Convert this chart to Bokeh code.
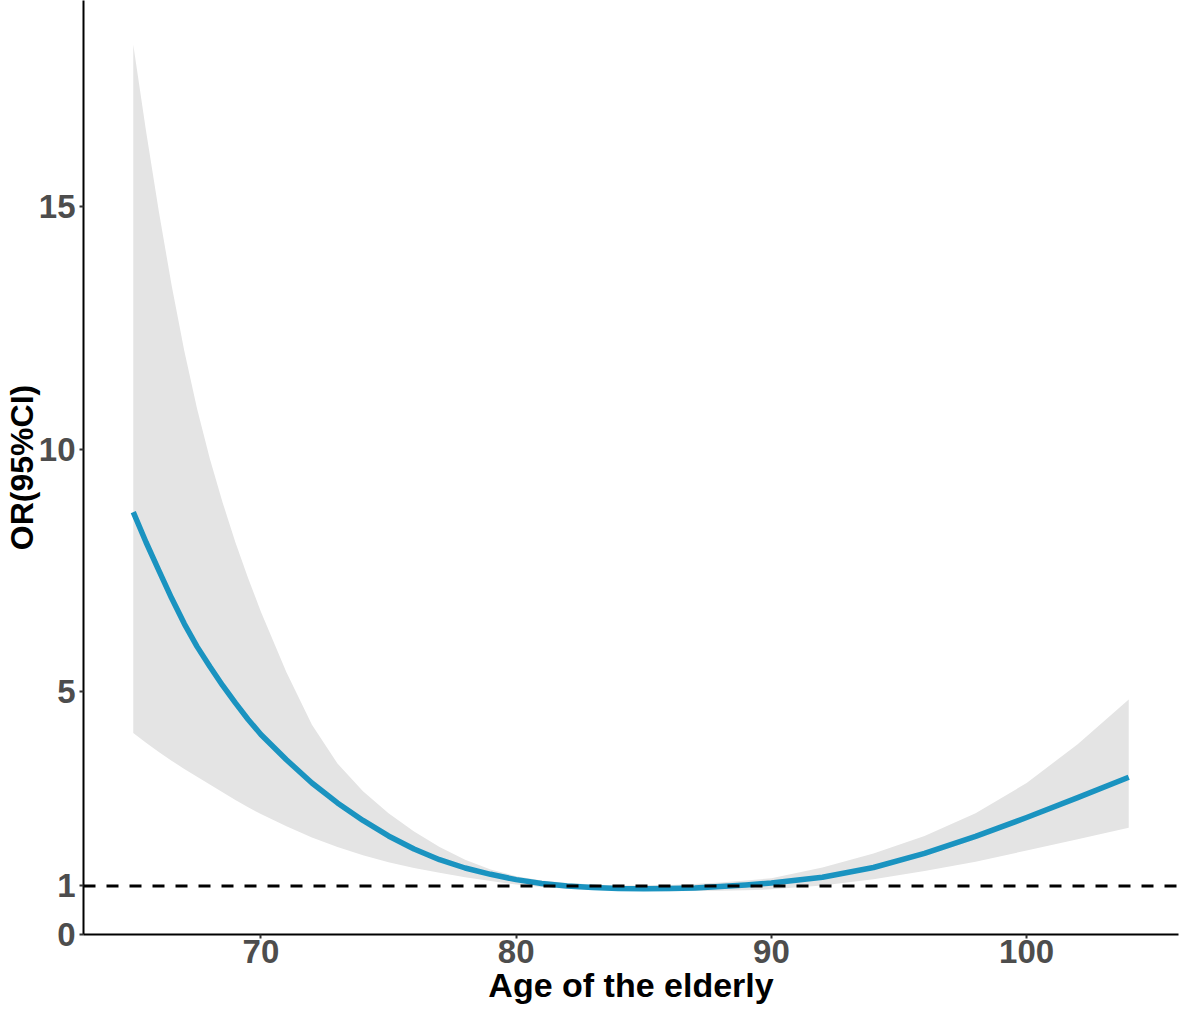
from bokeh.plotting import figure
from bokeh.models import Span, Range1d, FixedTicker
from bokeh.embed import file_html
from bokeh.resources import INLINE

# Data (age vs odds ratio with 95% CI)
age = [65, 65.5, 66, 66.5, 67, 67.5, 68, 68.5, 69, 69.5, 70,
       71, 72, 73, 74, 75, 76, 77, 78, 79, 80,
       81, 82, 83, 84, 85, 86, 87, 88, 89, 90,
       92, 94, 96, 98, 100, 102, 104]
or_est = [8.70, 8.08, 7.50, 6.93, 6.40, 5.93, 5.52, 5.13, 4.77, 4.43, 4.12,
          3.60, 3.12, 2.71, 2.35, 2.03, 1.76, 1.54, 1.37, 1.24, 1.13,
          1.05, 1.00, 0.97, 0.95, 0.945, 0.95, 0.96, 0.99, 1.02, 1.06,
          1.18, 1.38, 1.67, 2.02, 2.41, 2.82, 3.24]
ci_low = [4.15, 3.95, 3.76, 3.58, 3.41, 3.25, 3.09, 2.93, 2.77, 2.62, 2.48,
          2.23, 2.00, 1.80, 1.63, 1.49, 1.37, 1.27, 1.18, 1.10, 1.03,
          0.98, 0.94, 0.92, 0.90, 0.895, 0.89, 0.895, 0.90, 0.91, 0.93,
          1.01, 1.14, 1.31, 1.50, 1.73, 1.96, 2.20]
ci_high = [18.33, 16.55, 14.90, 13.38, 12.02, 10.83, 9.80, 8.90, 8.08, 7.34, 6.65,
           5.40, 4.32, 3.52, 2.95, 2.50, 2.12, 1.80, 1.54, 1.34, 1.20,
           1.11, 1.06, 1.03, 1.01, 1.01, 1.02, 1.04, 1.07, 1.11, 1.16,
           1.38, 1.67, 2.03, 2.50, 3.12, 3.92, 4.84]
ref_or = 1
x_ticks = [70, 80, 90, 100]
y_ticks = [0, 1, 5, 10, 15]
x_title = "Age of the elderly"
y_title = "OR(95%CI)"

p = figure(width=1181, height=1011, output_backend="svg", toolbar_location=None,
           x_range=Range1d(63.05, 105.95), y_range=Range1d(0, 19.24),
           min_border_left=82, min_border_right=3, min_border_top=0, min_border_bottom=77)
p.outline_line_color = None
p.xgrid.grid_line_color = None
p.ygrid.grid_line_color = None
p.background_fill_color = "white"
p.border_fill_color = "white"

p.varea(x=age, y1=ci_low, y2=ci_high, fill_color="#E4E4E4", fill_alpha=1.0)
p.line(x=age, y=or_est, line_color="#1A93C0", line_width=5.5, line_join="round")
p.add_layout(Span(location=ref_or, dimension="width", line_color="black",
                  line_width=3, line_dash="12 11"))

for ax in (p.xaxis[0], p.yaxis[0]):
    ax.axis_line_color = "black"
    ax.axis_line_width = 2
    ax.major_tick_line_color = "#333333"
    ax.major_tick_line_width = 2
    ax.major_tick_out = 4
    ax.major_tick_in = 0
    ax.minor_tick_line_color = None
    ax.major_label_text_font = "Liberation Sans"
    ax.major_label_text_font_style = "bold"
    ax.major_label_text_font_size = "33px"
    ax.major_label_text_color = "#4D4D4D"
    ax.axis_label_text_font = "Liberation Sans"
    ax.axis_label_text_font_style = "bold"
    ax.axis_label_text_color = "black"

p.xaxis.ticker = FixedTicker(ticks=x_ticks)
p.yaxis.ticker = FixedTicker(ticks=y_ticks)
p.xaxis.axis_label = x_title
p.yaxis.axis_label = y_title
p.xaxis.axis_label_text_font_size = "34px"
p.yaxis.axis_label_text_font_size = "32px"
p.xaxis.major_label_standoff = 1
p.xaxis.axis_label_standoff = 0
p.yaxis.major_label_standoff = 4
p.yaxis.axis_label_standoff = -4

open("out.html", "w").write(file_html(p, INLINE))
